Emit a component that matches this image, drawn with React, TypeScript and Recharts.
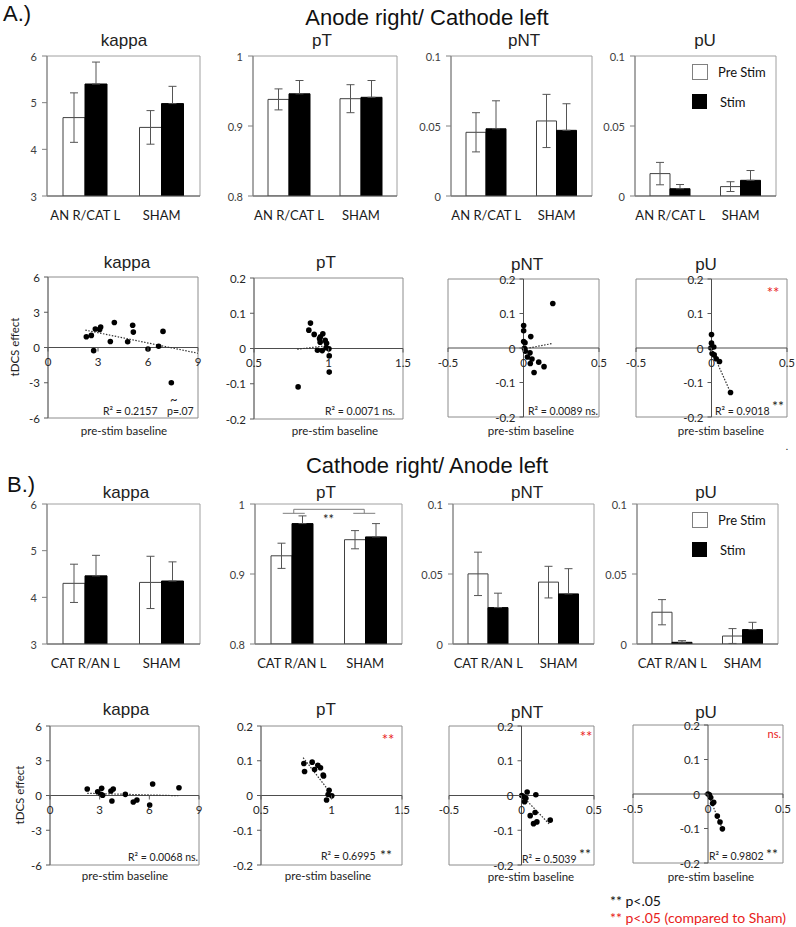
import React from "react";
import {
  Bar,
  BarChart,
  ErrorBar,
  ReferenceArea,
  ReferenceLine,
  Scatter,
  ScatterChart,
  XAxis,
  YAxis,
} from "recharts";

const TITLE_FONT = "'Liberation Sans Narrow', 'Arial Narrow', 'Liberation Sans', Arial, sans-serif";
const LABEL_FONT = "Lato, 'Open Sans', sans-serif";
const RED = "#e8211a";

// ---------- A.) anode right / cathode left : group means (bars) ----------
const groupsA = ["AN R/CAT L", "SHAM"];
const kappaPreA = [4.68, 4.47];
const kappaPreErrA = [0.53, 0.36];
const kappaStimA = [5.4, 4.98];
const kappaStimErrA = [0.47, 0.37];
const pTPreA = [0.938, 0.939];
const pTPreErrA = [0.015, 0.02];
const pTStimA = [0.946, 0.941];
const pTStimErrA = [0.019, 0.024];
const pNTPreA = [0.0455, 0.0536];
const pNTPreErrA = [0.014, 0.019];
const pNTStimA = [0.048, 0.0469];
const pNTStimErrA = [0.02, 0.019];
const pUPreA = [0.016, 0.0067];
const pUPreErrA = [0.008, 0.0035];
const pUStimA = [0.0052, 0.0112];
const pUStimErrA = [0.003, 0.007];

// ---------- B.) cathode right / anode left : group means (bars) ----------
const groupsB = ["CAT R/AN L", "SHAM"];
const kappaPreB = [4.3, 4.32];
const kappaPreErrB = [0.41, 0.56];
const kappaStimB = [4.46, 4.35];
const kappaStimErrB = [0.44, 0.41];
const pTPreB = [0.926, 0.949];
const pTPreErrB = [0.018, 0.013];
const pTStimB = [0.972, 0.953];
const pTStimErrB = [0.011, 0.019];
const pNTPreB = [0.0501, 0.0442];
const pNTPreErrB = [0.0155, 0.0113];
const pNTStimB = [0.026, 0.0358];
const pNTStimErrB = [0.0103, 0.018];
const pUPreB = [0.0227, 0.0057];
const pUPreErrB = [0.009, 0.0053];
const pUStimB = [0.0012, 0.0103];
const pUStimErrB = [0.0012, 0.0052];
const pTBracketB = 0.9924;

// ---------- A.) baseline vs tDCS effect (scatter) ----------
const kappaBaseA = [2.3, 2.6, 2.84, 2.74, 3.1, 3.16, 3.74, 3.98, 4.78, 5.08, 5.12, 6.0, 6.64, 6.9, 7.4];
const kappaEffA = [0.91, 1.03, 1.57, -0.27, 1.54, 1.74, 0.51, 2.13, 0.49, 1.9, 1.31, -0.13, 0.1, 1.37, -3.0];
const kappaTrendXA = [2.24, 9];
const kappaTrendYA = [1.48, -0.49];

const pTBaseA = [0.879, 0.868, 0.904, 0.94, 0.946, 0.962, 0.944, 0.978, 0.987, 0.926, 0.958, 0.984, 1.003, 1.005, 1.005, 0.796];
const pTEffA = [0.072, 0.052, 0.04, 0.028, 0.033, 0.042, 0.018, 0.023, 0.015, -0.005, -0.006, 0.002, -0.001, -0.021, -0.067, -0.109];
const pTTrendXA = [0.79, 0.993];
const pTTrendYA = [-0.002, 0.008];

const pNTBaseA = [0.001, 0.001, 0.001, 0.01, 0.006, 0.012, 0.048, 0.043, 0.026, 0.056, 0.045, 0.101, 0.136, 0.07, 0.194];
const pNTEffA = [0.065, 0.05, 0.019, 0.015, -0.001, -0.009, 0.033, -0.014, -0.026, -0.032, -0.045, -0.041, -0.054, -0.071, 0.129];
const pNTTrendXA = [0, 0.19];
const pNTTrendYA = [-0.003, 0.013];

const pUBaseA = [0.0, 0.0, -0.004, 0.015, 0.004, 0.018, 0.031, 0.053, 0.126];
const pUEffA = [0.039, 0.014, 0.0, 0.003, -0.016, -0.02, -0.031, -0.039, -0.129];
const pUTrendXA = [0.004, 0.126];
const pUTrendYA = [-0.01, -0.129];

// ---------- B.) baseline vs tDCS effect (scatter) ----------
const kappaBaseB = [2.25, 2.88, 3.12, 3.08, 3.18, 3.68, 3.82, 3.74, 4.55, 5.03, 5.25, 6.02, 6.2, 7.79];
const kappaEffB = [0.56, 0.33, 0.62, 0.1, 0.02, 0.39, 0.56, -0.47, 0.1, -0.56, -0.39, -0.82, 0.99, 0.67];
const kappaTrendXB = [2.25, 7.75];
const kappaTrendYB = [0.19, -0.02];

const pTBaseB = [0.804, 0.809, 0.863, 0.88, 0.903, 0.922, 0.941, 0.944, 0.983, 0.976, 1.002, 0.965];
const pTEffB = [0.092, 0.069, 0.096, 0.075, 0.087, 0.08, 0.059, 0.056, 0.015, 0.003, -0.001, -0.013];
const pTTrendXB = [0.799, 0.988];
const pTTrendYB = [0.109, 0.01];

const pNTBaseB = [0.002, 0.016, 0.03, 0.039, 0.021, 0.099, 0.06, 0.094, 0.083, 0.106, 0.198];
const pNTEffB = [0.0, -0.004, -0.008, 0.01, -0.018, 0.002, -0.058, -0.049, -0.081, -0.076, -0.071];
const pNTTrendXB = [0.011, 0.196];
const pNTTrendYB = [-0.004, -0.084];

const pUBaseB = [0.0, 0.009, 0.018, 0.031, 0.038, 0.062, 0.08, 0.096];
const pUEffB = [0.0, -0.002, -0.01, -0.027, -0.024, -0.064, -0.081, -0.101];
const pUTrendXB = [0, 0.096];
const pUTrendYB = [0, -0.101];

// ---------- axis ticks ----------
const kappaBarTicks = [3, 4, 5, 6];
const pTBarTicks = [0.8, 0.9, 1];
const pBarTicks = [0, 0.05, 0.1];
const kappaScatXTicks = [0, 3, 6, 9];
const kappaScatYTicks = [-6, -3, 0, 3, 6];
const pTScatXTicks = [0.5, 1, 1.5];
const pScatXTicks = [-0.5, 0, 0.5];
const pScatYTicks = [-0.2, -0.1, 0, 0.1, 0.2];

// ---------- layout (plot boxes in page pixels) ----------
type Box = { x: number; y: number; w: number; h: number };
const barBoxesA: Box[] = [
  { x: 47, y: 56, w: 153, h: 140 },
  { x: 253, y: 56, w: 144, h: 140 },
  { x: 451, y: 56, w: 141, h: 140 },
  { x: 635, y: 56, w: 141, h: 140 },
];
const scatBoxesA: Box[] = [
  { x: 48, y: 277, w: 150, h: 141 },
  { x: 254, y: 278, w: 149, h: 141 },
  { x: 448, y: 279, w: 151, h: 138 },
  { x: 636, y: 279, w: 151, h: 138 },
];
const barBoxesB: Box[] = [
  { x: 47, y: 504, w: 153, h: 140 },
  { x: 255, y: 504, w: 147, h: 140 },
  { x: 453, y: 504, w: 141, h: 140 },
  { x: 637, y: 504, w: 141, h: 140 },
];
const scatBoxesB: Box[] = [
  { x: 50, y: 726, w: 149, h: 139 },
  { x: 261, y: 726, w: 141, h: 139 },
  { x: 449, y: 726, w: 145, h: 139 },
  { x: 633, y: 725, w: 150, h: 138 },
];

const AXIS_W = 44;
const PAD_T = 12;
const PAD_R = 12;
const X_H = 34;

const fmt = (v: number) => String(v);

function Txt({
  x,
  y,
  children,
  size = 11,
  color = "#222",
  font = LABEL_FONT,
  align = "left",
  rotate = 0,
}: {
  x: number;
  y: number;
  children: React.ReactNode;
  size?: number;
  color?: string;
  font?: string;
  align?: "left" | "center" | "right";
  rotate?: number;
}) {
  const tx = align === "center" ? "-50%" : align === "right" ? "-100%" : "0";
  return (
    <div
      style={{
        position: "absolute",
        left: x,
        top: y,
        transform: `translate(${tx}, -50%)${rotate ? ` rotate(${rotate}deg)` : ""}`,
        fontSize: size,
        fontFamily: font,
        color,
        whiteSpace: "nowrap",
        lineHeight: 1,
      }}
    >
      {children}
    </div>
  );
}

const BracketShape = (p: any) => {
  const { x1, x2, y1 } = p;
  return (
    <g>
      <path
        d={`M${x1 + 2},${y1 + 4} V${y1} H${x2 - 1} V${y1 + 4}`}
        stroke="#7f7f7f"
        fill="none"
      />
      <line x1={x1 - 9} x2={x1 + 13} y1={y1 + 4} y2={y1 + 4} stroke="#7f7f7f" />
      <line x1={x2 - 12} x2={x2 + 10} y1={y1 + 4} y2={y1 + 4} stroke="#7f7f7f" />
      <text
        x={(x1 + x2) / 2}
        y={y1 + 10}
        textAnchor="middle"
        dominantBaseline="central"
        fontSize={13}
        fontFamily={LABEL_FONT}
        fill="#222"
      >
        **
      </text>
    </g>
  );
};

type BarPanelProps = {
  box: Box;
  groups: string[];
  pre: number[];
  preErr: number[];
  stim: number[];
  stimErr: number[];
  domain: [number, number];
  ticks: number[];
  barSize: number;
  bracket?: number;
};

function BarPanel({ box, groups, pre, preErr, stim, stimErr, domain, ticks, barSize, bracket }: BarPanelProps) {
  const data = groups.map((g, i) => ({
    group: g,
    pre: pre[i],
    preErr: preErr[i],
    stim: stim[i],
    stimErr: [0, stimErr[i]],
  }));

  const valueTick = (p: any) => (
    <text
      x={p.x}
      y={p.y}
      textAnchor="end"
      dominantBaseline="central"
      fontSize={11}
      fontFamily={LABEL_FONT}
      fill="#404040"
    >
      {fmt(p.payload.value)}
    </text>
  );
  const groupTick = (p: any) => (
    <text
      x={p.x}
      y={p.y + 19}
      textAnchor="middle"
      dominantBaseline="central"
      fontSize={13}
      fontFamily={LABEL_FONT}
      fill="#1a1a1a"
    >
      {p.payload.value}
    </text>
  );

  return (
    <div style={{ position: "absolute", left: box.x - AXIS_W, top: box.y - PAD_T }}>
      <BarChart
        width={box.w + AXIS_W + PAD_R}
        height={box.h + PAD_T + X_H}
        data={data}
        margin={{ top: PAD_T, right: PAD_R, left: 0, bottom: 0 }}
        barGap={0}
        barSize={barSize}
      >
        <ReferenceArea
          x1={groups[0]}
          x2={groups[groups.length - 1]}
          y1={domain[0]}
          y2={domain[1]}
          fill="none"
          stroke="#a0a0a0"
          ifOverflow="visible"
        />
        <XAxis
          dataKey="group"
          height={X_H}
          tickLine={false}
          tickSize={0}
          tickMargin={0}
          interval={0}
          axisLine={{ stroke: "#595959" }}
          tick={groupTick}
        />
        <YAxis
          width={AXIS_W}
          type="number"
          domain={domain}
          ticks={ticks}
          allowDataOverflow
          interval={0}
          tickSize={5}
          tickMargin={5}
          axisLine={{ stroke: "#808080" }}
          tickLine={{ stroke: "#808080" }}
          tick={valueTick}
        />
        <Bar dataKey="pre" fill="#ffffff" stroke="#404040" strokeWidth={1} isAnimationActive={false}>
          <ErrorBar dataKey="preErr" direction="y" width={4} stroke="#555" strokeWidth={1} isAnimationActive={false} />
        </Bar>
        <Bar dataKey="stim" fill="#000000" stroke="#000000" isAnimationActive={false}>
          <ErrorBar dataKey="stimErr" direction="y" width={4} stroke="#555" strokeWidth={1} isAnimationActive={false} />
        </Bar>
        {bracket !== undefined && (
          <ReferenceLine
            segment={[
              { x: groups[0], y: bracket },
              { x: groups[groups.length - 1], y: bracket },
            ]}
            shape={BracketShape}
            ifOverflow="visible"
          />
        )}
      </BarChart>
    </div>
  );
}

type ScatterPanelProps = {
  box: Box;
  xs: number[];
  ys: number[];
  trendX: number[];
  trendY: number[];
  xDomain: [number, number];
  yDomain: [number, number];
  xTicks: number[];
  yTicks: number[];
  centerYAxis?: boolean;
};

function ScatterPanel({ box, xs, ys, trendX, trendY, xDomain, yDomain, xTicks, yTicks, centerYAxis }: ScatterPanelProps) {
  const data = xs.map((x, i) => ({ x, y: ys[i] }));
  // pixel distance from the plot's bottom edge to the y = 0 line, and from its left edge to x = 0
  const zeroUp = (box.h * (0 - yDomain[0])) / (yDomain[1] - yDomain[0]);
  const zeroRight = centerYAxis ? (box.w * (0 - xDomain[0])) / (xDomain[1] - xDomain[0]) : 0;

  const xTick = (p: any) => {
    const zy = p.y - zeroUp;
    return (
      <g>
        <line x1={p.x} x2={p.x} y1={zy} y2={zy + 4} stroke="#595959" />
        <text
          x={p.x}
          y={zy + 14}
          textAnchor="middle"
          dominantBaseline="central"
          fontSize={11.5}
          fontFamily={LABEL_FONT}
          fill="#262626"
        >
          {fmt(p.payload.value)}
        </text>
      </g>
    );
  };
  const yTick = (p: any) => {
    const zx = p.x + zeroRight;
    return (
      <g>
        <line x1={zx - 4} x2={zx} y1={p.y} y2={p.y} stroke="#595959" />
        <text
          x={zx - 8}
          y={p.y}
          textAnchor="end"
          dominantBaseline="central"
          fontSize={11.5}
          fontFamily={LABEL_FONT}
          fill="#262626"
        >
          {fmt(p.payload.value)}
        </text>
      </g>
    );
  };
  const dot = (p: any) => <circle cx={p.cx} cy={p.cy} r={2.8} fill="#000" />;

  return (
    <div style={{ position: "absolute", left: box.x - AXIS_W, top: box.y - PAD_T }}>
      <ScatterChart
        width={box.w + AXIS_W + PAD_R}
        height={box.h + PAD_T + X_H}
        margin={{ top: PAD_T, right: PAD_R, left: 0, bottom: 0 }}
      >
        <ReferenceArea
          x1={xDomain[0]}
          x2={xDomain[1]}
          y1={yDomain[0]}
          y2={yDomain[1]}
          fill="none"
          stroke="#8c8c8c"
          ifOverflow="visible"
        />
        <XAxis
          type="number"
          dataKey="x"
          domain={xDomain}
          ticks={xTicks}
          allowDataOverflow
          interval={0}
          height={X_H}
          axisLine={false}
          tickLine={false}
          tickSize={0}
          tickMargin={0}
          tick={xTick}
        />
        <YAxis
          type="number"
          dataKey="y"
          domain={yDomain}
          ticks={yTicks}
          allowDataOverflow
          interval={0}
          width={AXIS_W}
          axisLine={centerYAxis ? false : { stroke: "#6f6f6f" }}
          tickLine={false}
          tickSize={0}
          tickMargin={0}
          tick={yTick}
        />
        <ReferenceLine y={0} stroke="#4d4d4d" ifOverflow="visible" />
        {centerYAxis && <ReferenceLine x={0} stroke="#4d4d4d" ifOverflow="visible" />}
        <ReferenceLine
          segment={[
            { x: trendX[0], y: trendY[0] },
            { x: trendX[1], y: trendY[1] },
          ]}
          stroke="#333"
          strokeWidth={1.2}
          strokeDasharray="1.5 1.5"
          ifOverflow="visible"
        />
        <Scatter data={data} shape={dot} isAnimationActive={false} />
      </ScatterChart>
    </div>
  );
}

function StimLegend({ x, y }: { x: number; y: number }) {
  return (
    <>
      <div
        style={{
          position: "absolute",
          left: x,
          top: y,
          width: 14,
          height: 14,
          border: "1px solid #808080",
          background: "#fff",
        }}
      />
      <div style={{ position: "absolute", left: x, top: y + 30, width: 15, height: 15, background: "#000" }} />
      <Txt x={x + 26} y={y + 8} size={13} color="#111">
        Pre Stim
      </Txt>
      <Txt x={x + 28} y={y + 38} size={13} color="#111">
        Stim
      </Txt>
    </>
  );
}

const TITLE_SIZE = 17;
const NOTE_SIZE = 10.5;
const STAR_SIZE = 15;

export default function App() {
  return (
    <div
      style={{
        position: "absolute",
        left: 0,
        top: 0,
        width: 796,
        height: 927,
        background: "#fff",
        overflow: "hidden",
      }}
    >
      {/* ---------------- A ---------------- */}
      <Txt x={3} y={14} size={22} font={TITLE_FONT} color="#111">
        A.)
      </Txt>
      <Txt x={427} y={18} size={22} font={TITLE_FONT} color="#111" align="center">
        Anode right/ Cathode left
      </Txt>
      <Txt x={124} y={40} size={TITLE_SIZE} font={TITLE_FONT} align="center">kappa</Txt>
      <Txt x={322} y={40} size={TITLE_SIZE} font={TITLE_FONT} align="center">pT</Txt>
      <Txt x={524} y={40} size={TITLE_SIZE} font={TITLE_FONT} align="center">pNT</Txt>
      <Txt x={705} y={40} size={TITLE_SIZE} font={TITLE_FONT} align="center">pU</Txt>

      <BarPanel box={barBoxesA[0]} groups={groupsA} pre={kappaPreA} preErr={kappaPreErrA} stim={kappaStimA} stimErr={kappaStimErrA} domain={[3, 6]} ticks={kappaBarTicks} barSize={22} />
      <BarPanel box={barBoxesA[1]} groups={groupsA} pre={pTPreA} preErr={pTPreErrA} stim={pTStimA} stimErr={pTStimErrA} domain={[0.8, 1]} ticks={pTBarTicks} barSize={21} />
      <BarPanel box={barBoxesA[2]} groups={groupsA} pre={pNTPreA} preErr={pNTPreErrA} stim={pNTStimA} stimErr={pNTStimErrA} domain={[0, 0.1]} ticks={pBarTicks} barSize={20} />
      <BarPanel box={barBoxesA[3]} groups={groupsA} pre={pUPreA} preErr={pUPreErrA} stim={pUStimA} stimErr={pUStimErrA} domain={[0, 0.1]} ticks={pBarTicks} barSize={20} />
      <StimLegend x={692} y={64} />

      <Txt x={127} y={262} size={TITLE_SIZE} font={TITLE_FONT} align="center">kappa</Txt>
      <Txt x={326} y={262} size={TITLE_SIZE} font={TITLE_FONT} align="center">pT</Txt>
      <Txt x={527} y={264} size={TITLE_SIZE} font={TITLE_FONT} align="center">pNT</Txt>
      <Txt x={706} y={264} size={TITLE_SIZE} font={TITLE_FONT} align="center">pU</Txt>

      <ScatterPanel box={scatBoxesA[0]} xs={kappaBaseA} ys={kappaEffA} trendX={kappaTrendXA} trendY={kappaTrendYA} xDomain={[0, 9]} yDomain={[-6, 6]} xTicks={kappaScatXTicks} yTicks={kappaScatYTicks} />
      <ScatterPanel box={scatBoxesA[1]} xs={pTBaseA} ys={pTEffA} trendX={pTTrendXA} trendY={pTTrendYA} xDomain={[0.5, 1.5]} yDomain={[-0.2, 0.2]} xTicks={pTScatXTicks} yTicks={pScatYTicks} />
      <ScatterPanel box={scatBoxesA[2]} xs={pNTBaseA} ys={pNTEffA} trendX={pNTTrendXA} trendY={pNTTrendYA} xDomain={[-0.5, 0.5]} yDomain={[-0.2, 0.2]} xTicks={pScatXTicks} yTicks={pScatYTicks} centerYAxis />
      <ScatterPanel box={scatBoxesA[3]} xs={pUBaseA} ys={pUEffA} trendX={pUTrendXA} trendY={pUTrendYA} xDomain={[-0.5, 0.5]} yDomain={[-0.2, 0.2]} xTicks={pScatXTicks} yTicks={pScatYTicks} centerYAxis />

      <Txt x={15} y={347} size={11.5} align="center" rotate={-90}>tDCS effect</Txt>
      <Txt x={124} y={431} size={11.5} align="center">pre-stim baseline</Txt>
      <Txt x={335} y={431} size={11.5} align="center">pre-stim baseline</Txt>
      <Txt x={531} y={431} size={11.5} align="center">pre-stim baseline</Txt>
      <Txt x={721} y={431} size={11.5} align="center">pre-stim baseline</Txt>

      <Txt x={103} y={411} size={NOTE_SIZE}>R² = 0.2157</Txt>
      <Txt x={167} y={411} size={NOTE_SIZE}>p=.07</Txt>
      <Txt x={170} y={399} size={13}>~</Txt>
      <Txt x={325} y={411} size={NOTE_SIZE}>R² = 0.0071 ns.</Txt>
      <Txt x={528} y={411} size={NOTE_SIZE}>R² = 0.0089 ns.</Txt>
      <Txt x={715} y={411} size={NOTE_SIZE}>R² = 0.9018</Txt>
      <Txt x={778} y={406} size={STAR_SIZE - 1} align="center">**</Txt>
      <Txt x={773} y={292} size={STAR_SIZE} align="center" color={RED}>**</Txt>
      <Txt x={787} y={446} size={10} align="center">.</Txt>

      {/* ---------------- B ---------------- */}
      <Txt x={427} y={466} size={22} font={TITLE_FONT} color="#111" align="center">
        Cathode right/ Anode left
      </Txt>
      <Txt x={7} y={485} size={22} font={TITLE_FONT} color="#111">
        B.)
      </Txt>
      <Txt x={126} y={492} size={TITLE_SIZE} font={TITLE_FONT} align="center">kappa</Txt>
      <Txt x={326} y={492} size={TITLE_SIZE} font={TITLE_FONT} align="center">pT</Txt>
      <Txt x={527} y={492} size={TITLE_SIZE} font={TITLE_FONT} align="center">pNT</Txt>
      <Txt x={706} y={492} size={TITLE_SIZE} font={TITLE_FONT} align="center">pU</Txt>

      <BarPanel box={barBoxesB[0]} groups={groupsB} pre={kappaPreB} preErr={kappaPreErrB} stim={kappaStimB} stimErr={kappaStimErrB} domain={[3, 6]} ticks={kappaBarTicks} barSize={22} />
      <BarPanel box={barBoxesB[1]} groups={groupsB} pre={pTPreB} preErr={pTPreErrB} stim={pTStimB} stimErr={pTStimErrB} domain={[0.8, 1]} ticks={pTBarTicks} barSize={21} bracket={pTBracketB} />
      <BarPanel box={barBoxesB[2]} groups={groupsB} pre={pNTPreB} preErr={pNTPreErrB} stim={pNTStimB} stimErr={pNTStimErrB} domain={[0, 0.1]} ticks={pBarTicks} barSize={20} />
      <BarPanel box={barBoxesB[3]} groups={groupsB} pre={pUPreB} preErr={pUPreErrB} stim={pUStimB} stimErr={pUStimErrB} domain={[0, 0.1]} ticks={pBarTicks} barSize={20} />
      <StimLegend x={692} y={512} />

      <Txt x={126} y={709} size={TITLE_SIZE} font={TITLE_FONT} align="center">kappa</Txt>
      <Txt x={326} y={709} size={TITLE_SIZE} font={TITLE_FONT} align="center">pT</Txt>
      <Txt x={527} y={712} size={TITLE_SIZE} font={TITLE_FONT} align="center">pNT</Txt>
      <Txt x={706} y={712} size={TITLE_SIZE} font={TITLE_FONT} align="center">pU</Txt>

      <ScatterPanel box={scatBoxesB[0]} xs={kappaBaseB} ys={kappaEffB} trendX={kappaTrendXB} trendY={kappaTrendYB} xDomain={[0, 9]} yDomain={[-6, 6]} xTicks={kappaScatXTicks} yTicks={kappaScatYTicks} />
      <ScatterPanel box={scatBoxesB[1]} xs={pTBaseB} ys={pTEffB} trendX={pTTrendXB} trendY={pTTrendYB} xDomain={[0.5, 1.5]} yDomain={[-0.2, 0.2]} xTicks={pTScatXTicks} yTicks={pScatYTicks} />
      <ScatterPanel box={scatBoxesB[2]} xs={pNTBaseB} ys={pNTEffB} trendX={pNTTrendXB} trendY={pNTTrendYB} xDomain={[-0.5, 0.5]} yDomain={[-0.2, 0.2]} xTicks={pScatXTicks} yTicks={pScatYTicks} centerYAxis />
      <ScatterPanel box={scatBoxesB[3]} xs={pUBaseB} ys={pUEffB} trendX={pUTrendXB} trendY={pUTrendYB} xDomain={[-0.5, 0.5]} yDomain={[-0.2, 0.2]} xTicks={pScatXTicks} yTicks={pScatYTicks} centerYAxis />

      <Txt x={20} y={795} size={11.5} align="center" rotate={-90}>tDCS effect</Txt>
      <Txt x={125} y={876} size={11.5} align="center">pre-stim baseline</Txt>
      <Txt x={328} y={876} size={11.5} align="center">pre-stim baseline</Txt>
      <Txt x={531} y={877} size={11.5} align="center">pre-stim baseline</Txt>
      <Txt x={711} y={877} size={11.5} align="center">pre-stim baseline</Txt>

      <Txt x={128} y={857} size={NOTE_SIZE}>R² = 0.0068 ns.</Txt>
      <Txt x={321} y={856} size={NOTE_SIZE}>R² = 0.6995</Txt>
      <Txt x={386} y={855} size={STAR_SIZE - 1} align="center">**</Txt>
      <Txt x={388} y={739} size={STAR_SIZE} align="center" color={RED}>**</Txt>
      <Txt x={522} y={859} size={NOTE_SIZE}>R² = 0.5039</Txt>
      <Txt x={585} y={854} size={STAR_SIZE - 1} align="center">**</Txt>
      <Txt x={586} y={736} size={STAR_SIZE} align="center" color={RED}>**</Txt>
      <Txt x={709} y={856} size={NOTE_SIZE}>R² = 0.9802</Txt>
      <Txt x={772} y={854} size={STAR_SIZE - 1} align="center">**</Txt>
      <Txt x={781} y={733} size={11} align="right" color={RED}>ns.</Txt>

      <Txt x={610} y={901} size={14} color="#111">** p&lt;.05</Txt>
      <Txt x={610} y={918} size={14} color={RED}>** p&lt;.05 (compared to Sham)</Txt>
    </div>
  );
}
